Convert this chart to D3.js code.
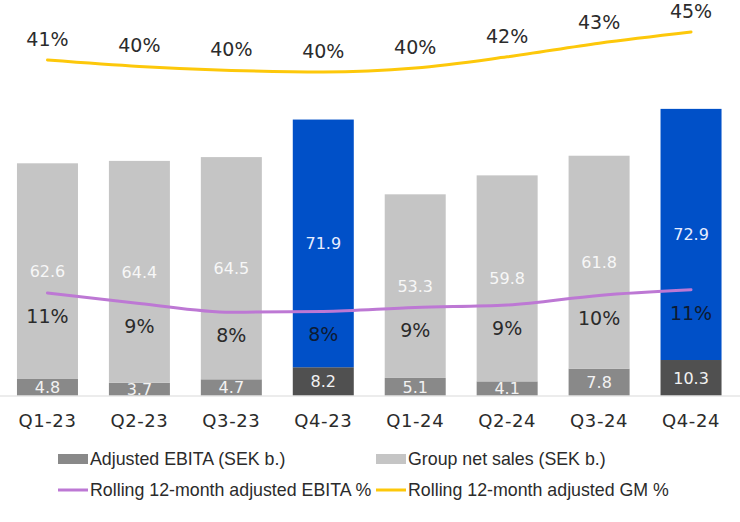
<!DOCTYPE html>
<html>
<head>
<meta charset="utf-8">
<script src="https://cdn.jsdelivr.net/npm/d3@7"></script>
<style>
  html, body { margin: 0; padding: 0; background: #fff; }
  svg { display: block; }
</style>
</head>
<body>
<svg id="chart" width="740" height="522"></svg>
<script>
// ---- data ----
const categories = ["Q1-23", "Q2-23", "Q3-23", "Q4-23", "Q1-24", "Q2-24", "Q3-24", "Q4-24"];
const adjustedEbita = [4.8, 3.7, 4.7, 8.2, 5.1, 4.1, 7.8, 10.3];
const groupNetSales = [62.6, 64.4, 64.5, 71.9, 53.3, 59.8, 61.8, 72.9];
const ebitaPct = [10.7, 9.4, 8.3, 8.4, 8.9, 9.2, 10.4, 11.1];
const gmPct = [41.2, 40.4, 39.9, 39.7, 40.2, 41.6, 43.3, 44.7];
const q4Categories = ["Q4-23", "Q4-24"];
const legendLabels = ["Adjusted EBITA (SEK b.)", "Group net sales (SEK b.)",
                      "Rolling 12-month adjusted EBITA %", "Rolling 12-month adjusted GM %"];

// ---- style ----
const colSales = "#c5c5c5", colSalesQ4 = "#0050c8";
const colEbita = "#898989", colEbitaQ4 = "#505050";
const colPurple = "#bd78d4", colYellow = "#fdc80a";
const txtDark = "#2b2b2b";
const labelFont = "DejaVu Sans, sans-serif";

const svg = d3.select("#chart");
const baseY = 395.5;

const x = d3.scaleBand().domain(categories).range([1.5, 737]).paddingInner(0.3365).paddingOuter(0.3365 / 2);
const y = d3.scaleLinear().domain([0, 100]).range([baseY, 51]);
const yE = d3.scaleLinear().domain([0, 20]).range([378.6, 218.6]);
const yG = d3.scaleLinear().domain([30, 50]).range([149.6, -10.4]);

const rows = categories.map((c, i) => ({
  cat: c, ebita: adjustedEbita[i], sales: groupNetSales[i],
  ep: ebitaPct[i], gm: gmPct[i], q4: q4Categories.includes(c)
}));

svg.append("defs").append("clipPath").attr("id", "plotClip")
  .append("rect").attr("x", 0).attr("y", 0).attr("width", 740).attr("height", baseY);

// bars
const gb = svg.append("g");
gb.selectAll("rect.e").data(rows).join("rect").attr("class", "e")
  .attr("x", d => x(d.cat)).attr("width", x.bandwidth())
  .attr("y", d => y(d.ebita)).attr("height", d => y(0) - y(d.ebita))
  .attr("fill", d => d.q4 ? colEbitaQ4 : colEbita);
gb.selectAll("rect.s").data(rows).join("rect").attr("class", "s")
  .attr("x", d => x(d.cat)).attr("width", x.bandwidth())
  .attr("y", d => y(d.ebita + d.sales)).attr("height", d => y(d.ebita) - y(d.ebita + d.sales))
  .attr("fill", d => d.q4 ? colSalesQ4 : colSales);

// axis line
svg.append("line").attr("x1", 0).attr("x2", 740).attr("y1", 396).attr("y2", 396)
  .attr("stroke", "#d9d9d9").attr("stroke-width", 1);

// bar value labels
const gl = svg.append("g").attr("clip-path", "url(#plotClip)")
  .attr("font-family", labelFont).attr("font-size", 16).attr("text-anchor", "middle");
gl.selectAll("text.s").data(rows).join("text").attr("class", "s")
  .attr("x", d => x(d.cat) + x.bandwidth() / 2)
  .attr("y", d => (y(d.ebita) + y(d.ebita + d.sales)) / 2 + 6)
  .attr("fill", d => d.q4 ? "#e8eeff" : "#f7f7f7")
  .text(d => d.sales.toFixed(1));
gl.selectAll("text.e").data(rows).join("text").attr("class", "e")
  .attr("x", d => x(d.cat) + x.bandwidth() / 2)
  .attr("y", d => (y(0) + y(d.ebita)) / 2 + 6)
  .attr("fill", "#f2f2f2")
  .text(d => d.ebita.toFixed(1));

// lines
const cx = d => x(d.cat) + x.bandwidth() / 2;
const lineE = d3.line().x(cx).y(d => yE(d.ep)).curve(d3.curveMonotoneX);
const lineG = d3.line().x(cx).y(d => yG(d.gm)).curve(d3.curveMonotoneX);
svg.append("path").datum(rows).attr("d", lineE).attr("fill", "none")
  .attr("stroke", colPurple).attr("stroke-width", 3).attr("stroke-linecap", "round");
svg.append("path").datum(rows).attr("d", lineG).attr("fill", "none")
  .attr("stroke", colYellow).attr("stroke-width", 3).attr("stroke-linecap", "round");

// line labels
const pctG = svg.append("g").attr("font-family", labelFont).attr("font-size", 19)
  .attr("text-anchor", "middle");
pctG.selectAll("text.ep").data(rows).join("text").attr("class", "ep")
  .attr("x", cx).attr("y", d => yE(d.ep) + 30)
  .attr("fill", d => d.q4 ? "#0d1a33" : txtDark)
  .text(d => Math.round(d.ep) + "%");
pctG.selectAll("text.gm").data(rows).join("text").attr("class", "gm")
  .attr("x", cx).attr("y", d => yG(d.gm) - 14)
  .attr("fill", txtDark)
  .text(d => Math.round(d.gm) + "%");

// category axis labels
svg.append("g").attr("font-family", labelFont).attr("font-size", 18)
  .attr("text-anchor", "middle").attr("fill", txtDark)
  .selectAll("text").data(categories).join("text")
  .attr("x", c => x(c) + x.bandwidth() / 2).attr("y", 427)
  .attr("letter-spacing", 0.6)
  .text(c => c);

// legend
const lg = svg.append("g").attr("font-family", "Liberation Sans, Arial, sans-serif")
  .attr("font-size", 17.8).attr("fill", txtDark);
const legendItems = [
  { label: legendLabels[0], type: "rect", color: colEbita, x: 58, y: 459 },
  { label: legendLabels[1], type: "rect", color: colSales, x: 376, y: 459 },
  { label: legendLabels[2], type: "line", color: colPurple, x: 58, y: 490 },
  { label: legendLabels[3], type: "line", color: colYellow, x: 376, y: 490 }
];
legendItems.forEach(it => {
  if (it.type === "rect") {
    lg.append("rect").attr("x", it.x).attr("y", it.y - 5).attr("width", 30).attr("height", 10)
      .attr("fill", it.color);
  } else {
    lg.append("line").attr("x1", it.x).attr("x2", it.x + 30).attr("y1", it.y).attr("y2", it.y)
      .attr("stroke", it.color).attr("stroke-width", 3);
  }
  lg.append("text").attr("x", it.x + 32).attr("y", it.y + 6).text(it.label);
});
</script>
</body>
</html>
